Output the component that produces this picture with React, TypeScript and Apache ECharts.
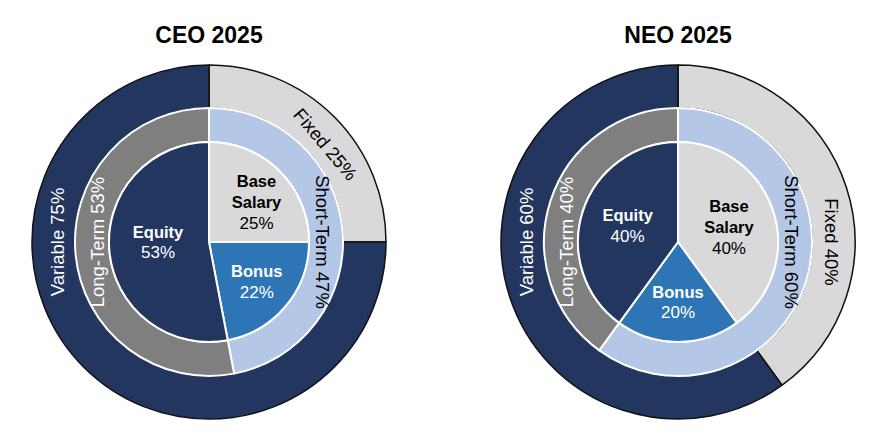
import React, { useRef, useEffect } from 'react';
import * as echarts from 'echarts';

// Pay mix data, in percent of total target pay
const MIX_NAMES = ['Fixed', 'Variable'];
const TERM_NAMES = ['Short-Term', 'Long-Term'];
const PAY_NAMES = ['Base Salary', 'Bonus', 'Equity'];

const CEO_MIX = [25, 75];
const CEO_TERM = [47, 53];
const CEO_PAY = [25, 22, 53];

const NEO_MIX = [40, 60];
const NEO_TERM = [60, 40];
const NEO_PAY = [40, 20, 40];

const TITLES = ['CEO 2025', 'NEO 2025'];

const NAVY = '#22365F';
const LIGHT_GRAY = '#D9D9D9';
const MID_GRAY = '#7F7F7F';
const LIGHT_BLUE = '#B4C7E7';
const BLUE = '#2E75B6';

const FONT = '"Liberation Sans", Arial, sans-serif';

// label spots: angle in degrees clockwise from 12 o'clock (mid-angle when left out), r in px
type Spot = { angle?: number; r: number };

const CEO_SPOTS: Record<string, Spot[]> = {
  mix: [{ angle: 50, r: 152 }, { angle: 270, r: 152 }],
  term: [{ angle: 90, r: 113 }, { angle: 270, r: 112 }],
  pay: [{ angle: 50, r: 62 }, { r: 62 }, { angle: 270, r: 51 }],
};

const NEO_SPOTS: Record<string, Spot[]> = {
  mix: [{ angle: 90, r: 153 }, { angle: 270, r: 152 }],
  term: [{ angle: 90, r: 113 }, { angle: 270, r: 112 }],
  pay: [{ angle: 74, r: 53 }, { r: 60 }, { r: 53 }],
};

const midAngle = (values: number[], i: number) => {
  const total = values.reduce((a, b) => a + b, 0);
  const before = values.slice(0, i).reduce((a, b) => a + b, 0);
  return ((before + values[i] / 2) / total) * 360;
};

// keep tangential text readable (never upside down)
const tangentRotate = (theta: number) => {
  let rot = -theta;
  while (rot <= -180) rot += 360;
  while (rot > 180) rot -= 360;
  if (rot < -90) rot += 180;
  if (rot > 90) rot -= 180;
  return rot;
};

const placeLabels =
  (center: number[], values: number[], spots: Spot[], tangential: boolean) => (p: any) => {
    const s = spots[p.dataIndex];
    const theta = s.angle ?? midAngle(values, p.dataIndex);
    const rad = (theta * Math.PI) / 180;
    return {
      x: center[0] + s.r * Math.sin(rad),
      y: center[1] - s.r * Math.cos(rad),
      rotate: tangential ? tangentRotate(theta) : 0,
      align: 'center',
      verticalAlign: 'middle',
    };
  };

const ring = (
  center: number[],
  radius: number[],
  names: string[],
  values: number[],
  colors: string[],
  textColors: string[],
  spots: Spot[],
  tangential: boolean,
  border: { color: string; width: number }
) => ({
  type: 'pie',
  center,
  radius,
  startAngle: 90,
  clockwise: true,
  silent: true,
  avoidLabelOverlap: false,
  labelLine: { show: false },
  emphasis: { disabled: true },
  itemStyle: { borderColor: border.color, borderWidth: border.width },
  label: {
    show: true,
    position: 'inside',
    rotate: 0,
    fontFamily: FONT,
    fontSize: tangential ? 18.5 : 17,
    lineHeight: 21,
    formatter: tangential
      ? (p: any) => `${p.name} ${p.value}%`
      : (p: any) =>
          p.name
            .split(' ')
            .map((w: string) => `{n|${w}}`)
            .join('\n') + `\n{v|${p.value}%}`,
    rich: {
      n: { fontFamily: FONT, fontSize: 16.5, fontWeight: 'bold', lineHeight: 21 },
      v: { fontFamily: FONT, fontSize: 17, lineHeight: 21 },
    },
  },
  labelLayout: placeLabels(center, values, spots, tangential),
  data: names.map((name, i) => ({
    name,
    value: values[i],
    itemStyle: { color: colors[i] },
    label: { color: textColors[i] },
  })),
});

const donutSet = (
  center: number[],
  mix: number[],
  term: number[],
  pay: number[],
  spots: Record<string, Spot[]>
) => [
  ring(center, [134, 177], MIX_NAMES, mix, [LIGHT_GRAY, NAVY], ['#000', '#fff'], spots.mix, true, {
    color: '#111',
    width: 1.5,
  }),
  ring(center, [100, 134], TERM_NAMES, term, [LIGHT_BLUE, MID_GRAY], ['#000', '#fff'], spots.term, true, {
    color: '#fff',
    width: 2,
  }),
  ring(center, [0, 100], PAY_NAMES, pay, [LIGHT_GRAY, BLUE, NAVY], ['#000', '#fff', '#fff'], spots.pay, false, {
    color: '#fff',
    width: 2,
  }),
];

const CEO_CENTER = [209, 242];
const NEO_CENTER = [678, 242];

export default function App() {
  const chartRef = useRef<HTMLDivElement>(null);

  useEffect(() => {
    if (!chartRef.current) return;
    const chart = echarts.init(chartRef.current, null, { renderer: 'svg' });

    const titleStyle = { fontFamily: FONT, fontSize: 23, fontWeight: 'bold', color: '#000' };

    chart.setOption({
      animation: false,
      backgroundColor: '#fff',
      title: [
        { text: TITLES[0], left: CEO_CENTER[0], top: 23, textAlign: 'center', padding: 0, textStyle: titleStyle },
        { text: TITLES[1], left: NEO_CENTER[0], top: 23, textAlign: 'center', padding: 0, textStyle: titleStyle },
      ],
      series: [
        ...donutSet(CEO_CENTER, CEO_MIX, CEO_TERM, CEO_PAY, CEO_SPOTS),
        ...donutSet(NEO_CENTER, NEO_MIX, NEO_TERM, NEO_PAY, NEO_SPOTS),
      ],
    });

    return () => {
      chart.dispose();
    };
  }, []);

  return (
    <div
      ref={chartRef}
      style={{ position: 'fixed', left: 0, top: 0, width: '892px', height: '443px', background: '#fff' }}
    />
  );
}
